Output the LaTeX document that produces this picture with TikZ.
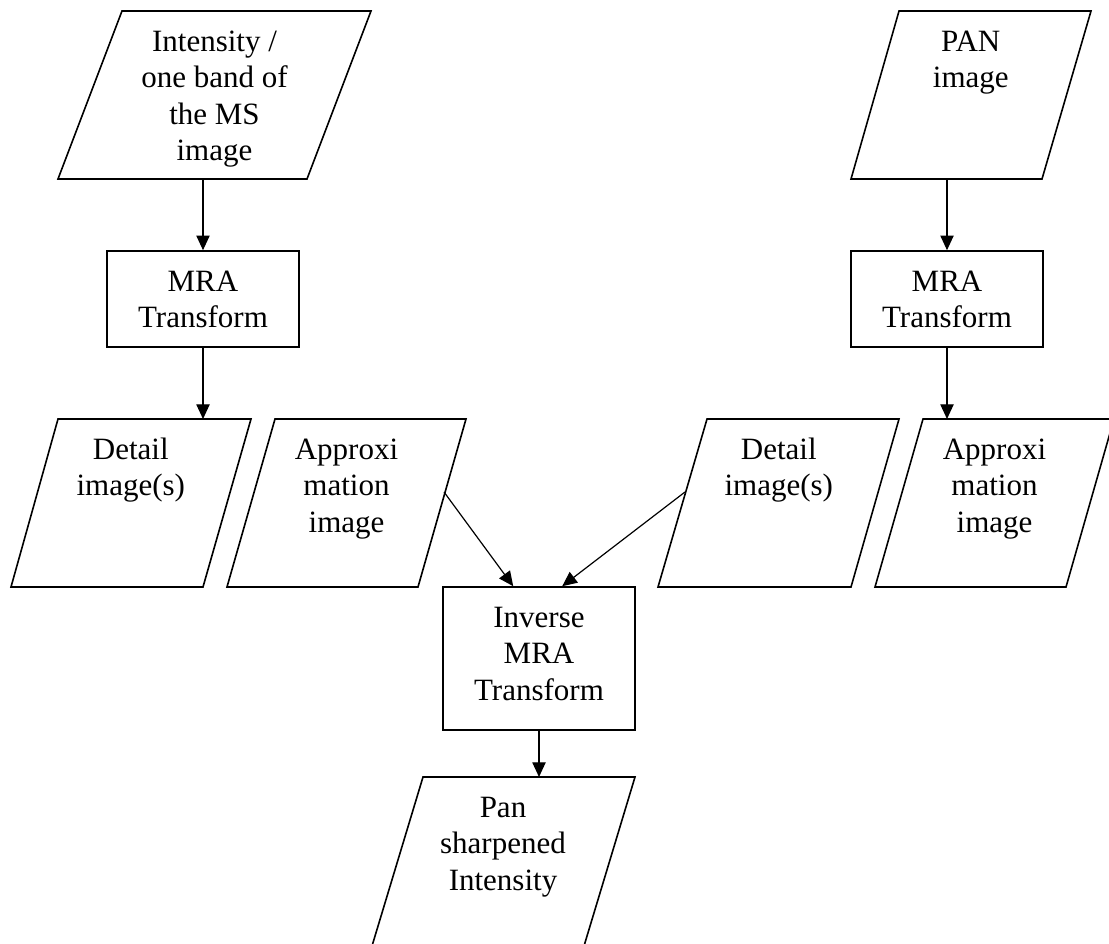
\documentclass[tikz,border=0pt]{standalone}
\usepackage{fontspec}
\setmainfont{Liberation Serif}
\usetikzlibrary{arrows.meta,calc}

\begin{document}
\begin{tikzpicture}[x=0.75pt,y=-0.75pt,
  outline/.style={draw,line width=1.2pt,line join=miter},
  procbox/.style={draw,line width=1.2pt,minimum width=144pt,inner sep=0pt},
  lbl/.style={anchor=north,inner sep=0pt,align=center,
    font=\fontsize{23.25pt}{27.4pt}\selectfont},
  arr/.style={line width=0.9pt,-{Triangle[length=11pt,width=10pt]}}]

\useasboundingbox[fill=white] (0,0) rectangle (1109,944);

% ---- input data (parallelograms) ----
\draw[outline] (122,11) -- (371,11) -- (307,179) -- (58,179) -- cycle;
\node[lbl] (ms) at (214.5,25.4) {\strut Intensity /\\one band of\\the MS\\image};
\coordinate (ms-out) at (203,179);

\draw[outline] (899,11) -- (1091,11) -- (1042,179) -- (851,179) -- cycle;
\node[lbl] (pan) at (970.75,25.4) {\strut PAN\\image};
\coordinate (pan-out) at (947,179);

% ---- forward transforms ----
\node[procbox,minimum height=72pt] (mra1) at (203,299) {};
\node[lbl] (mra1t) at (203,265.4) {\strut MRA\\Transform};
\node[procbox,minimum height=72pt] (mra2) at (947,299) {};
\node[lbl] (mra2t) at (947,265.4) {\strut MRA\\Transform};

% ---- decomposition results ----
\draw[outline] (58,419) -- (251,419) -- (203,587) -- (11,587) -- cycle;
\node[lbl] (detL) at (130.75,433.4) {\strut Detail\\image(s)};
\coordinate (detL-in) at (203,419);

\draw[outline] (275,419) -- (466,419) -- (418,587) -- (227,587) -- cycle;
\node[lbl] (apL) at (346.5,433.4) {\strut Approxi\\mation\\image};
\coordinate (apL-out) at (444,492);

\draw[outline] (707,419) -- (899,419) -- (851,587) -- (658,587) -- cycle;
\node[lbl] (detR) at (778.75,433.4) {\strut Detail\\image(s)};
\coordinate (detR-out) at (685,492);

\draw[outline] (923,419) -- (1114,419) -- (1066,587) -- (875,587) -- cycle;
\node[lbl] (apR) at (994.5,433.4) {\strut Approxi\\mation\\image};
\coordinate (apR-in) at (947,419);

% ---- reconstruction ----
\node[procbox,minimum height=107.25pt] (inv) at (539,658.5) {};
\node[lbl] (invt) at (539,601.4) {\strut Inverse\\MRA\\Transform};

\draw[outline] (423,777) -- (635,777) -- (584,946) -- (372,946) -- cycle;
\node[lbl] (sharp) at (503,791.4) {\strut Pan\\sharpened\\Intensity};
\coordinate (sharp-in) at (539,777);

% ---- connectors ----
\draw[arr] (ms-out) -- (mra1.north);
\draw[arr] (mra1.south) -- (detL-in);
\draw[arr] (pan-out) -- (mra2.north);
\draw[arr] (mra2.south) -- (apR-in);
\draw[arr] (apL-out) -- ([xshift=53.25pt]inv.north west);
\draw[arr] (detR-out) -- ([xshift=90pt]inv.north west);
\draw[arr] (inv.south) -- (sharp-in);
\end{tikzpicture}
\end{document}
